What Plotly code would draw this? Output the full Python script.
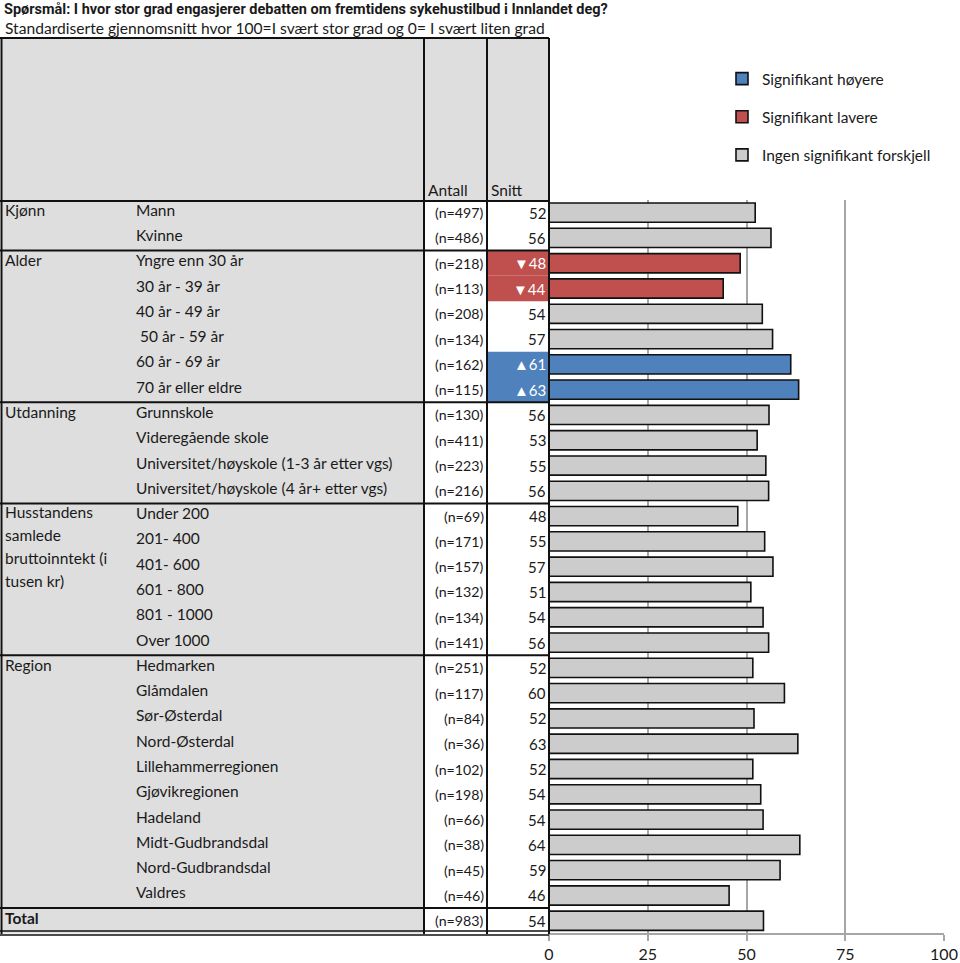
import plotly.graph_objects as go

# ---------------- data ----------------
categories = ["Mann", "Kvinne", "Yngre enn 30 år", "30 år - 39 år", "40 år - 49 år",
              " 50 år - 59 år", "60 år - 69 år", "70 år eller eldre", "Grunnskole",
              "Videregående skole", "Universitet/høyskole (1-3 år etter vgs)",
              "Universitet/høyskole (4 år+ etter vgs)", "Under 200", "201- 400", "401- 600",
              "601 - 800", "801 - 1000", "Over 1000", "Hedmarken", "Glåmdalen", "Sør-Østerdal",
              "Nord-Østerdal", "Lillehammerregionen", "Gjøvikregionen", "Hadeland",
              "Midt-Gudbrandsdal", "Nord-Gudbrandsdal", "Valdres", "Total"]
antall = [497, 486, 218, 113, 208, 134, 162, 115, 130, 411, 223, 216, 69, 171, 157, 132, 134,
          141, 251, 117, 84, 36, 102, 198, 66, 38, 45, 46, 983]
snitt = [52, 56, 48, 44, 54, 57, 61, 63, 56, 53, 55, 56, 48, 55, 57, 51, 54, 56, 52, 60, 52, 63,
         52, 54, 54, 64, 59, 46, 54]
verdi = [52.2, 56.2, 48.4, 44.1, 54.0, 56.6, 61.2, 63.2, 55.7, 52.7, 54.9, 55.6, 47.8, 54.6,
         56.7, 51.1, 54.2, 55.6, 51.6, 59.6, 51.9, 63.0, 51.6, 53.6, 54.2, 63.5, 58.5, 45.6, 54.3]
signifikans = ["n", "n", "l", "l", "n", "n", "h", "h", "n", "n", "n", "n", "n", "n", "n", "n",
               "n", "n", "n", "n", "n", "n", "n", "n", "n", "n", "n", "n", "n"]
grupper = ["Kjønn", "Alder", "Utdanning", "Husstandens samlede bruttoinntekt (i tusen kr)", "Region", "Total"]
gruppe_start = [0, 2, 8, 12, 18, 28]
husstand_linjer = ["Husstandens", "samlede", "bruttoinntekt (i", "tusen kr)"]
tickvals = [0, 25, 50, 75, 100]
legend_names = {"h": "Signifikant høyere", "l": "Signifikant lavere", "n": "Ingen signifikant forskjell"}
colors = {"h": "#4F81BD", "l": "#C0504D", "n": "#CCCCCC"}

# ---------------- layout helpers ----------------
W, H = 960, 963
FONT = "Lato"
TXT = "#1a1a1a"
GRAY = "#DEDEDE"


def px(x):
    return x / W


def py(y):
    return 1 - y / H


Y_TOP, Y_BOT = 200, 933.4
n = len(categories)

fig = go.Figure()
for key in ["h", "l", "n"]:
    idx = [i for i, s in enumerate(signifikans) if s == key]
    fig.add_trace(go.Bar(
        orientation="h",
        y=[categories[i] for i in idx],
        x=[verdi[i] for i in idx],
        name=legend_names[key],
        legendgroup=key,
        marker=dict(color=colors[key], line=dict(color="#111111", width=1.6)),
        width=0.76,
        hoverinfo="x+y",
    ))

shapes = []
# gray backgrounds
shapes.append(dict(type="rect", xref="paper", yref="paper", x0=px(1), x1=px(549), y0=py(200), y1=py(38),
                   fillcolor=GRAY, line=dict(width=0), layer="below"))
shapes.append(dict(type="rect", xref="paper", yref="paper", x0=px(1), x1=px(424), y0=py(Y_BOT), y1=py(200),
                   fillcolor=GRAY, line=dict(width=0), layer="below"))
# coloured snitt cells
for i, s in enumerate(signifikans):
    if s != "n":
        shapes.append(dict(type="rect", xref="paper", yref="y", x0=px(487), x1=px(549), y0=i - 0.5, y1=i + 0.5,
                           fillcolor=colors[s], line=dict(width=0), layer="below"))
# table lines
line_k = dict(color="#111111", width=2)
shapes.append(dict(type="line", xref="paper", yref="paper", x0=px(0), x1=px(549), y0=py(38), y1=py(38), line=line_k))
shapes.append(dict(type="line", xref="paper", yref="paper", x0=px(0), x1=px(549), y0=py(201), y1=py(201), line=line_k))
for xv in [1.5, 424, 487, 549]:
    shapes.append(dict(type="line", xref="paper", yref="paper", x0=px(xv), x1=px(xv), y0=py(38), y1=py(934),
                       line=line_k))
for b in [1.5, 7.5, 11.5, 17.5, 27.5]:
    shapes.append(dict(type="line", xref="paper", yref="y", x0=px(0), x1=px(549), y0=b, y1=b, line=line_k))
for yv in [931, 935]:
    shapes.append(dict(type="line", xref="paper", yref="paper", x0=px(0), x1=px(549), y0=py(yv), y1=py(yv),
                       line=dict(color="#111111", width=1.5)))

ann = []
ann.append(dict(text="<b>Spørsmål: I hvor stor grad engasjerer debatten om fremtidens sykehustilbud i Innlandet deg?</b>",
                xref="paper", yref="paper", x=px(2), y=py(9.5), xanchor="left", yanchor="middle",
                showarrow=False, font=dict(size=14.5, color=TXT, family="Roboto")))
ann.append(dict(text="Standardiserte gjennomsnitt hvor 100=I svært stor grad og 0= I svært liten grad",
                xref="paper", yref="paper", x=px(3), y=py(28.5), xanchor="left", yanchor="middle",
                showarrow=False, font=dict(size=15.6, color=TXT, family=FONT)))
for t, xv in [("Antall", 426), ("Snitt", 489)]:
    ann.append(dict(text=t, xref="paper", yref="paper", x=px(xv), y=py(190), xanchor="left", yanchor="middle",
                    showarrow=False, font=dict(size=15.5, color=TXT, family=FONT)))

for i, c in enumerate(categories):
    if c != "Total":
        ann.append(dict(text=c, xref="paper", yref="y", x=px(134), y=i, yshift=3, xanchor="left",
                        yanchor="middle", showarrow=False, font=dict(size=15.5, color=TXT, family=FONT)))
    ann.append(dict(text=f"(n={antall[i]})", xref="paper", yref="y", x=px(486), y=i, xanchor="right",
                    yanchor="middle", showarrow=False, font=dict(size=14.2, color=TXT, family=FONT)))
    s = signifikans[i]
    prefix = "▲" if s == "h" else ("▼" if s == "l" else "")
    ann.append(dict(text=f"{prefix}{snitt[i]}", xref="paper", yref="y", x=px(548), y=i, xanchor="right",
                    yanchor="middle", showarrow=False,
                    font=dict(size=15, color="white" if s != "n" else TXT, family=FONT)))

for g, st in zip(grupper, gruppe_start):
    if g.startswith("Husstandens"):
        for k, line in enumerate(husstand_linjer):
            ann.append(dict(text=line, xref="paper", yref="y", x=px(3), y=st + k * 23 / 25.28, yshift=4,
                            xanchor="left", yanchor="middle", showarrow=False,
                            font=dict(size=15.5, color=TXT, family=FONT)))
    else:
        txt = f"<b>{g}</b>" if g == "Total" else g
        ann.append(dict(text=txt, xref="paper", yref="y", x=px(3), y=st, yshift=3, xanchor="left",
                        yanchor="middle", showarrow=False, font=dict(size=15.5, color=TXT, family=FONT)))

fig.update_layout(
    width=W, height=H,
    margin=dict(l=0, r=0, t=0, b=0, pad=0),
    autosize=False,
    paper_bgcolor="white", plot_bgcolor="white",
    barmode="overlay",
    font=dict(family=FONT, size=16, color=TXT),
    showlegend=True,
    legend=dict(x=px(722), y=py(62), xanchor="left", yanchor="top", bgcolor="rgba(0,0,0,0)",
                font=dict(size=15.5, color=TXT, family=FONT), tracegroupgap=15, traceorder="grouped"),
    xaxis=dict(domain=[px(549), px(944)], range=[0, 100], tickvals=tickvals, showgrid=True,
               gridcolor="#A6A6A6", gridwidth=1.5, zeroline=False, showline=True, linecolor="#A6A6A6",
               linewidth=1.5, ticks="outside", ticklen=6, tickcolor="#A6A6A6", tickwidth=1.5,
               tickfont=dict(size=16, color=TXT, family=FONT), fixedrange=True, automargin=False),
    yaxis=dict(domain=[py(Y_BOT), py(Y_TOP)], type="category", categoryorder="array",
               categoryarray=categories, range=[n - 0.5, -0.5], autorange=False, showticklabels=False,
               showgrid=False, zeroline=False, showline=False, ticks="", fixedrange=True, automargin=False),
    shapes=shapes,
    annotations=ann,
)

fig.write_html("out.html", config={"displayModeBar": False},
               post_script="document.body.style.margin='0';document.body.style.overflow='hidden';")
